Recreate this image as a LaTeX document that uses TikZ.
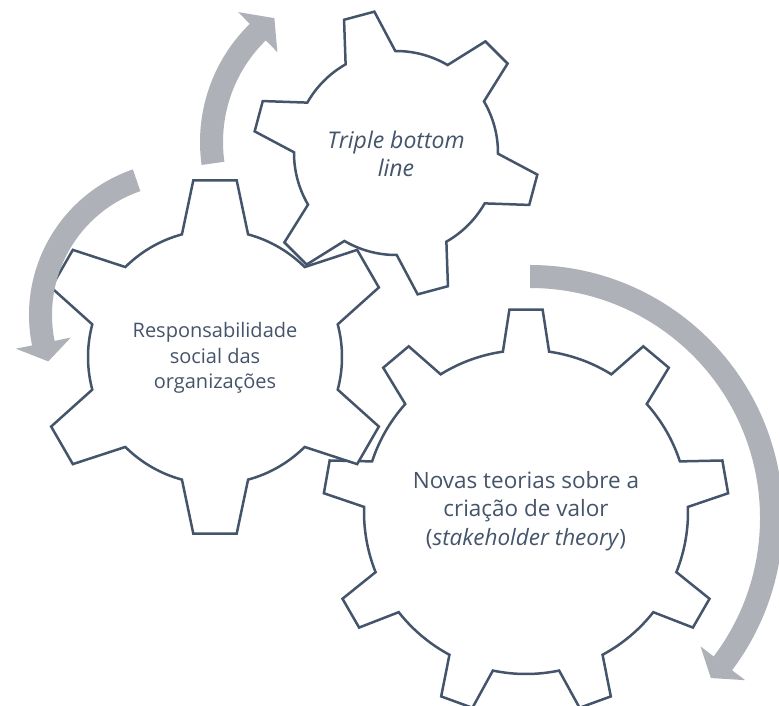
\documentclass[tikz,border=0pt]{standalone}
\usepackage{fontspec}
\setmainfont{Open Sans}
\usepackage{tikz}
\definecolor{gearline}{HTML}{44546A}
\definecolor{cyclegray}{HTML}{AEB1B8}

% gear: center, teeth, phase, tip radius, root radius, tip half angle, base half angle
\newcommand{\gearshape}[7]{%
  \draw[gear, shift={#1}] ({#3-#7}:#5)
    \foreach \k in {1,...,#2} {
      -- ({#3+(\k-1)*360/#2-#6}:#4) -- ({#3+(\k-1)*360/#2+#6}:#4) -- ({#3+(\k-1)*360/#2+#7}:#5)
      arc[start angle={#3+(\k-1)*360/#2+#7}, end angle={#3+\k*360/#2-#7}, radius=#5]
    } -- cycle;
}
% curved arrow: center, tail angle, head angle, tip angle, inner radius, outer radius
\newcommand{\cyclearrow}[6]{%
  \fill[cycarrow, shift={#1}] (#2:#6) arc[start angle=#2, end angle=#3, radius=#6]
    -- (#3:{#6+16.5}) -- (#4:{(#5+#6)/2}) -- (#3:{#5-16.5}) -- (#3:#5)
    arc[start angle=#3, end angle=#2, radius=#5] -- cycle;
}

\begin{document}
\begin{tikzpicture}[x=1pt, y=1pt]
    \tikzstyle{every node}=[text=gearline, align=center]
    \tikzstyle{gear} = [draw=gearline, fill=white, line width=2.5pt]
    \tikzstyle{cycarrow} = [fill=cyclegray]
    \tikzstyle{big} = [font=\fontsize{22.5}{28.5}\selectfont]
    \tikzstyle{small} = [font=\fontsize{20}{25.5}\selectfont]

    \useasboundingbox (0,0) rectangle (779,705);
    \clip (0,0) rectangle (779,705);

    \coordinate (valor) at (526,193);
    \coordinate (social) at (215,348);
    \coordinate (triple) at (396,552);

    % gears
    \gearshape{(valor)}{9}{90}{203}{162}{4.7}{8.2}
    \gearshape{(social)}{6}{90}{178}{127}{7}{15.1}
    \gearshape{(triple)}{6}{45}{143}{102}{6.3}{14.6}

    % arrows
    \cyclearrow{(365,563)}{188}{134.3}{126.2}{142}{165}
    \cyclearrow{(183,390)}{109}{191.4}{199}{131}{154}
    \cyclearrow{(530,187)}{90}{-37}{-41.5}{230}{253}

    \node[small] (t1) at ([yshift=-1]social) {Responsabilidade\\social das\\organizações};
    \node[big, font=\fontsize{23}{28}\selectfont] (t2) at ([yshift=-1]triple) {\textit{Triple bottom}\\\textit{line}};
    \node[big] (t3) at ([yshift=1]valor) {Novas teorias sobre a\\criação de valor\\(\textit{stakeholder theory})};
\end{tikzpicture}
\end{document}
